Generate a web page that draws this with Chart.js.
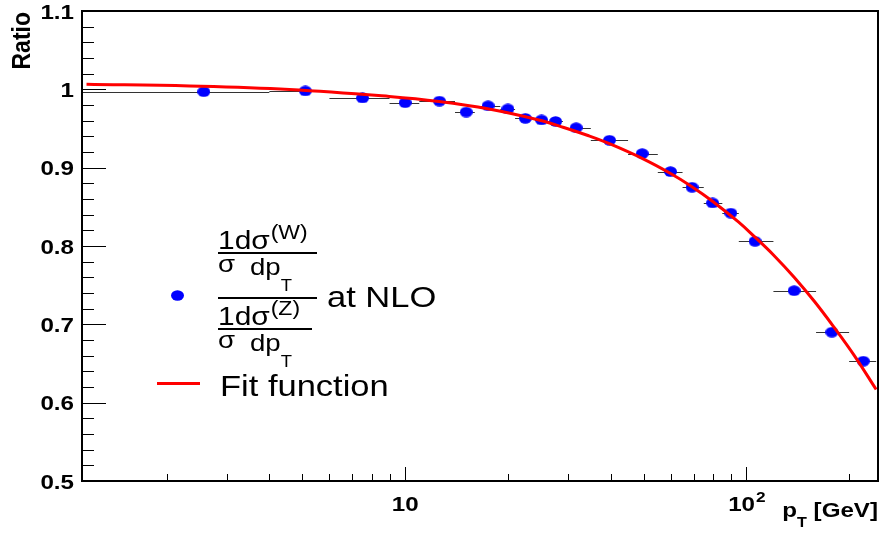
<!DOCTYPE html>
<html>
<head>
<meta charset="utf-8">
<script src="https://cdn.jsdelivr.net/npm/chart.js@4.4.1/dist/chart.umd.min.js"></script>
<style>
  html, body { margin: 0; padding: 0; background: #fff; }
</style>
</head>
<body>
<canvas id="myChart" width="885" height="537"></canvas>
<script>
// data
var binLo = [1, 4, 6, 9, 11, 14, 16, 19, 21, 24, 26, 29, 35, 45, 55, 65, 75, 85, 95, 120, 160, 200]
var binHi = [4, 6, 9, 11, 14, 16, 19, 21, 24, 26, 29, 35, 45, 55, 65, 75, 85, 95, 120, 160, 200, 240]
var ptX   = [2.57, 5.1, 7.5, 10, 12.6, 15.1, 17.5, 20, 22.5, 25.1, 27.6, 31.7, 39.7, 49.5, 59.9, 69.3, 79.6, 90, 106, 138, 178, 220]
var ratio = [0.997, 0.998, 0.989, 0.983, 0.985, 0.971, 0.979, 0.975, 0.963, 0.961, 0.959, 0.951, 0.935, 0.918, 0.895, 0.875, 0.855, 0.842, 0.806, 0.743, 0.690, 0.653]

// fit curve, sampled from the red line
var fitX = [1.165, 2.335, 4.58, 8.98, 12.57, 17.6, 24.65, 29.17, 34.5, 40.0, 49.65, 59.95, 69.06, 79.55, 94.75, 106.2, 120.8, 138.2, 158.1, 180.8, 206.9, 240]
var fitY = [1.0065, 1.0043, 0.9998, 0.9909, 0.9845, 0.9749, 0.9609, 0.9513, 0.9407, 0.9300, 0.9116, 0.8926, 0.8761, 0.8572, 0.8307, 0.8109, 0.7873, 0.7598, 0.7294, 0.6960, 0.6604, 0.6168]

var yTickVals   = [0.5, 0.6, 0.7, 0.8, 0.9, 1.0, 1.1]
var yTickLabels = ['0.5', '0.6', '0.7', '0.8', '0.9', '1', '1.1']
var xTickVals   = [10, 100]

var SX = 1.15   // the reference text is a bit wide
var FONT = "'Liberation Sans', Helvetica, Arial, sans-serif"

function txt(ctx, s, x, y, font, align){
  ctx.save()
  ctx.translate(x, y)
  ctx.scale(SX, 1)
  ctx.font = font
  ctx.textAlign = align || 'left'
  ctx.textBaseline = 'alphabetic'
  ctx.fillStyle = '#000'
  ctx.fillText(s, 0, 0)
  ctx.restore()
}
function tw(ctx, s, font){
  ctx.font = font
  return ctx.measureText(s).width * SX
}

// blue ellipse marker
var marker = document.createElement('canvas')
marker.width = 13
marker.height = 11
var mctx = marker.getContext('2d')
mctx.fillStyle = '#0000ff'
mctx.beginPath()
mctx.ellipse(6.5, 5.5, 6.5, 5.2, 0, 0, Math.PI * 2)
mctx.fill()

var errorBars = {
  id: 'errorBars',
  beforeDatasetsDraw: function(chart){
    var ctx = chart.ctx, xs = chart.scales.x, ys = chart.scales.y, a = chart.chartArea
    ctx.save()
    ctx.beginPath()
    ctx.rect(a.left, a.top, a.right - a.left, a.bottom - a.top)
    ctx.clip()
    ctx.strokeStyle = '#333'
    ctx.lineWidth = 1
    for (var i = 0; i < ratio.length; i++) {
      var y = Math.round(ys.getPixelForValue(ratio[i])) + 0.5
      ctx.beginPath()
      ctx.moveTo(xs.getPixelForValue(binLo[i]), y)
      ctx.lineTo(xs.getPixelForValue(binHi[i]), y)
      ctx.stroke()
    }
    ctx.restore()
  }
}

var frame = {
  id: 'frame',
  afterDraw: function(chart){
    var ctx = chart.ctx, xs = chart.scales.x, ys = chart.scales.y, a = chart.chartArea
    ctx.save()
    ctx.strokeStyle = '#000'
    // y ticks, inside the frame
    ctx.lineWidth = 1
    for (var k = 0; k <= 30; k++) {
      var v = 0.5 + k * 0.02
      var y = Math.round(ys.getPixelForValue(v)) + 0.5
      var len = (k % 5 == 0) ? 24 : 12
      ctx.beginPath()
      ctx.moveTo(a.left, y)
      ctx.lineTo(a.left + len, y)
      ctx.stroke()
    }
    // x ticks, log
    for (var d = 0; d <= 2; d++) {
      for (var m = 1; m <= 9; m++) {
        var xv = m * Math.pow(10, d)
        if (xv < xs.min || xv > xs.max) continue
        var x = Math.round(xs.getPixelForValue(xv)) + 0.5
        var l = (m == 1) ? 14 : 7
        ctx.beginPath()
        ctx.moveTo(x, a.bottom)
        ctx.lineTo(x, a.bottom - l)
        ctx.stroke()
      }
    }
    ctx.lineWidth = 2
    ctx.strokeRect(a.left, a.top, a.right - a.left, a.bottom - a.top)
    ctx.restore()

    var bold = 'bold 21px ' + FONT
    yTickLabels.forEach(function(lab, i){
      txt(ctx, lab, 74, ys.getPixelForValue(yTickVals[i]) + 7.5, bold, 'right')
    })
    // x labels: 10 and 10^2
    txt(ctx, '10', xs.getPixelForValue(xTickVals[0]), 511, bold, 'center')
    var w10 = tw(ctx, '10', bold), w2 = tw(ctx, '2', 'bold 15px ' + FONT)
    var cx = xs.getPixelForValue(xTickVals[1]) - (w10 + w2) / 2
    txt(ctx, '10', cx, 511, bold, 'left')
    txt(ctx, '2', cx + w10 + 1, 502, 'bold 15px ' + FONT, 'left')

    // axis titles
    var ge = ' [GeV]'
    var wg = tw(ctx, ge, bold), wT = tw(ctx, 'T', 'bold 14px ' + FONT), wp = tw(ctx, 'p', bold)
    var gx = a.right - wg
    txt(ctx, ge, gx, 517, bold, 'left')
    txt(ctx, 'T', gx - wT, 527, 'bold 14px ' + FONT, 'left')
    txt(ctx, 'p', gx - wT - wp, 517, bold, 'left')

    ctx.save()
    ctx.translate(30, 12)
    ctx.rotate(-Math.PI / 2)
    ctx.scale(1, SX)
    ctx.font = 'bold 23px ' + FONT
    ctx.textAlign = 'right'
    ctx.fillStyle = '#000'
    ctx.fillText('Ratio', 0, 0)
    ctx.restore()

    // legend
    var f = '26px ' + FONT, fs = '20px ' + FONT, fd = '24px ' + FONT, ft = '16px ' + FONT, fb = '30px ' + FONT
    ctx.drawImage(marker, 171, 290)
    txt(ctx, '1dσ', 218, 249, f)
    txt(ctx, '(W)', 218 + tw(ctx, '1dσ', f) + 1, 239, fs)
    txt(ctx, 'σ', 218, 272, fd)
    txt(ctx, 'dp', 250, 275, fd)
    txt(ctx, 'T', 250 + tw(ctx, 'dp', fd), 291, ft)
    txt(ctx, '1dσ', 218, 325, f)
    txt(ctx, '(Z)', 218 + tw(ctx, '1dσ', f) + 1, 315, fs)
    txt(ctx, 'σ', 218, 348, fd)
    txt(ctx, 'dp', 250, 351, fd)
    txt(ctx, 'T', 250 + tw(ctx, 'dp', fd), 367, ft)
    ctx.save()
    ctx.fillStyle = '#000'
    ctx.fillRect(218, 252, 99, 2)
    ctx.fillRect(218, 297, 99, 2)
    ctx.fillRect(218, 328, 94, 2)
    ctx.fillStyle = '#ff0000'
    ctx.fillRect(157, 382, 43, 3)
    ctx.restore()
    txt(ctx, 'at NLO', 327, 307, fb)
    txt(ctx, 'Fit function', 220, 396, fb)
  }
}

var points = ptX.map(function(x, i){ return {x: x, y: ratio[i]} })
var fit = fitX.map(function(x, i){ return {x: x, y: fitY[i]} })

var ctx = document.getElementById('myChart').getContext('2d')
window.chart = new Chart(ctx, {
  type: 'scatter',
  data: {
    datasets: [{
      type: 'line',
      label: 'Fit function',
      data: fit,
      borderColor: '#ff0000',
      borderWidth: 3,
      pointRadius: 0,
      tension: 0.4,
      fill: false,
      order: 0
    }, {
      label: 'ratio',
      data: points,
      pointStyle: marker,
      pointRadius: 6,
      order: 1
    }]
  },
  options: {
    responsive: false,
    devicePixelRatio: 1,
    animation: false,
    layout: { padding: { top: 11, right: 5, left: 0, bottom: 0 } },
    plugins: { legend: { display: false }, tooltip: { enabled: false } },
    scales: {
      x: {
        type: 'logarithmic', min: 1.13, max: 243,
        ticks: { display: false }, grid: { display: false }, border: { display: false },
        afterFit: function(s){ s.height = 56 }
      },
      y: {
        type: 'linear', min: 0.5, max: 1.1,
        ticks: { display: false }, grid: { display: false }, border: { display: false },
        afterFit: function(s){ s.width = 82 }
      }
    }
  },
  plugins: [errorBars, frame]
})
</script>
</body>
</html>
